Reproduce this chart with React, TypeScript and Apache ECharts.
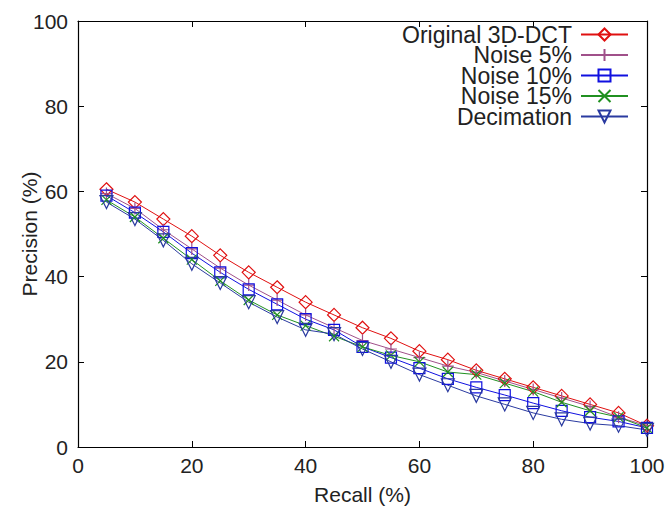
import React, { useEffect, useRef } from "react";
import * as echarts from "echarts";

const recall = [5, 10, 15, 20, 25, 30, 35, 40, 45, 50, 55, 60, 65, 70, 75, 80, 85, 90, 95, 100];
const original3D = [60.5, 57.5, 53.5, 49.5, 45, 41, 37.5, 34, 31, 28, 25.5, 22.5, 20.5, 18, 16, 14, 12, 10, 8, 5];
const noise5 = [59.5, 56, 51, 46.5, 42, 38, 34.5, 31, 28, 25, 23, 21, 19, 17.5, 15.5, 13.5, 11.5, 9.5, 7, 5];
const noise10 = [59, 55, 50.5, 45.5, 41, 37, 33.5, 30, 27.5, 23.5, 21, 18.5, 16, 14, 12.2, 10.3, 8.5, 7, 6, 4.5];
const noise15 = [58, 54, 49, 44, 39, 34.5, 31, 28.5, 26, 23.5, 21.5, 20, 17.6, 17, 15, 13, 10.5, 8.5, 7, 4.5];
const decimation = [57.5, 53.5, 48.5, 43, 38.5, 34, 30.5, 27.5, 26.5, 23, 20, 17, 14.5, 12, 10, 8, 6.5, 5.5, 5, 4];
const xTicks = [0, 20, 40, 60, 80, 100];
const yTicks = [0, 20, 40, 60, 80, 100];
const seriesNames = ["Original 3D-DCT", "Noise 5%", "Noise 10%", "Noise 15%", "Decimation"];

const FONT = "Liberation Sans, Arial, sans-serif";
const TXT = "#222";

export default function App() {
  const ref = useRef<HTMLDivElement>(null);
  useEffect(() => {
    if (!ref.current) return;
    const chart = echarts.init(ref.current, undefined, { renderer: "svg" });
    const pairs = (ys: number[]) => recall.map((x, i) => [x, ys[i]]);
    const mk = (
      name: string,
      ys: number[],
      color: string,
      symbol: string,
      size: number,
      rotate = 0
    ) => ({
      name,
      type: "line",
      data: pairs(ys),
      symbol,
      symbolSize: size,
      symbolRotate: rotate,
      showAllSymbol: true,
      lineStyle: { color, width: 1 },
      itemStyle: { color: "rgba(255,255,255,0)", borderColor: color, borderWidth: 1.2 },
      emphasis: { disabled: true },
      z: 2,
    });
    const plus = "path://M0,5L10,5M5,0L5,10";
    const cross = "path://M0,0L10,10M10,0L0,10";
    chart.setOption({
      animation: false,
      backgroundColor: "#fff",
      textStyle: { fontFamily: FONT },
      grid: { left: 78, right: 19, top: 21, bottom: 59, outerBoundsMode: "none", containLabel: false },
      legend: {
        data: seriesNames,
        orient: "vertical",
        right: 37,
        top: 23,
        align: "right",
        itemWidth: 47,
        itemHeight: 15,
        itemGap: -2.5,
        padding: 0,
        selectedMode: false,
        textStyle: {
          fontFamily: FONT,
          fontSize: 23,
          color: TXT,
          lineHeight: 19.6,
          padding: [0, 4, 0, 0],
        },
      },
      xAxis: [
        {
          type: "value",
          min: 0,
          max: 100,
          interval: 20,
          name: "Recall (%)",
          nameLocation: "middle",
          nameGap: 37,
          nameMoveOverlap: false,
          nameTextStyle: { fontFamily: FONT, fontSize: 21, color: TXT },
          axisLine: { onZero: false, lineStyle: { color: "#000", width: 1.2 } },
          axisTick: { inside: true, length: 6, lineStyle: { color: "#000" } },
          axisLabel: {
            fontFamily: FONT,
            fontSize: 21,
            color: TXT,
            margin: 8,
            customValues: xTicks,
          },
          splitLine: { show: false },
        },
        {
          type: "value",
          position: "top",
          min: 0,
          max: 100,
          interval: 20,
          axisLine: { onZero: false, lineStyle: { color: "#000", width: 1.2 } },
          axisTick: { inside: true, length: 6, lineStyle: { color: "#000" } },
          axisLabel: { show: false },
          splitLine: { show: false },
        },
      ],
      yAxis: [
        {
          type: "value",
          min: 0,
          max: 100,
          interval: 20,
          name: "Precision (%)",
          nameLocation: "middle",
          nameGap: 38,
          nameMoveOverlap: false,
          nameTextStyle: { fontFamily: FONT, fontSize: 21, color: TXT },
          axisLine: { show: true, onZero: false, lineStyle: { color: "#000", width: 1.2 } },
          axisTick: { show: true, inside: true, length: 6, lineStyle: { color: "#000" } },
          axisLabel: {
            fontFamily: FONT,
            fontSize: 21,
            color: TXT,
            margin: 10,
            customValues: yTicks,
          },
          splitLine: { show: false },
        },
        {
          type: "value",
          position: "right",
          min: 0,
          max: 100,
          interval: 20,
          axisLine: { show: true, onZero: false, lineStyle: { color: "#000", width: 1.2 } },
          axisTick: { show: true, inside: true, length: 6, lineStyle: { color: "#000" } },
          axisLabel: { show: false },
          splitLine: { show: false },
        },
      ],
      series: [
        mk(seriesNames[0], original3D, "#e01010", "diamond", 13),
        mk(seriesNames[1], noise5, "#a0508a", plus, 12),
        mk(seriesNames[2], noise10, "#1010e0", "rect", 11),
        mk(seriesNames[3], noise15, "#209020", cross, 10),
        mk(seriesNames[4], decimation, "#2a3aa0", "triangle", 13, 180),
      ],
    });
    return () => chart.dispose();
  }, []);
  return (
    <div
      ref={ref}
      style={{ position: "fixed", left: 0, top: 0, width: 666, height: 506 }}
    />
  );
}
